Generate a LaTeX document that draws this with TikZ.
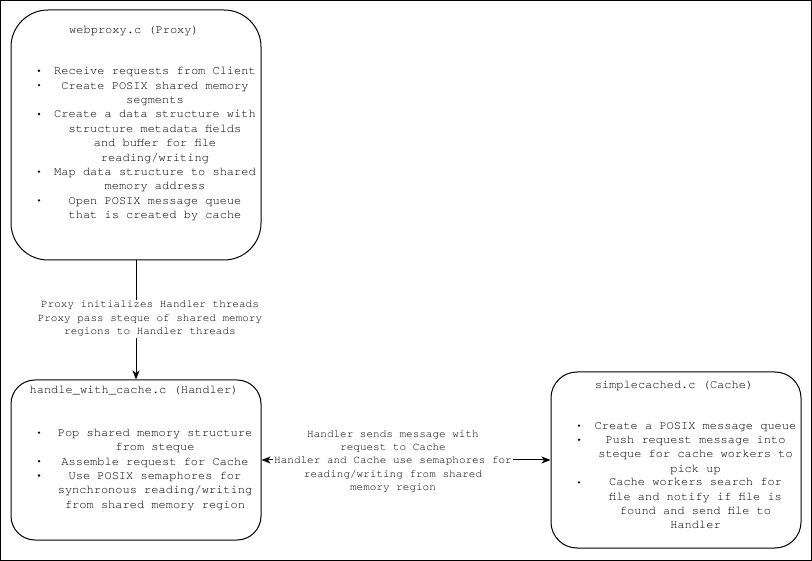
\documentclass[tikz,border=0pt]{standalone}
\usepackage{fontspec}
\setmonofont{TeX Gyre Cursor}
\usetikzlibrary{arrows.meta}
\tikzset{
  box/.style={draw, line width=1pt, rounded corners=#1, inner sep=0},
  title/.style={font=\fontsize{12}{14.4}\selectfont\ttfamily, anchor=base, inner sep=0},
  item/.style={font=\fontsize{12}{14.4}\selectfont\ttfamily, align=center, anchor=base, inner sep=0},
  dot/.style={circle, fill, inner sep=0, minimum size=2.6pt},
  lbl/.style={font=\fontsize{11}{13.3}\selectfont\ttfamily, align=center, fill=white, inner sep=1.5pt},
}

\begin{document}
\begin{tikzpicture}[x=1pt, y=-1pt, line width=1pt, >={Stealth[length=9pt,width=7pt,inset=2.5pt]}]
\useasboundingbox (0,0) rectangle (812,561);
\draw (0.5,0.5) rectangle (811.5,560.5);

% the three programs
\node[box=37pt, minimum width=250pt, minimum height=250pt] (proxy) at (136,135) {};
\node[box=24pt, minimum width=250pt, minimum height=160pt] (handler) at (136,460) {};
\node[box=26pt, minimum width=250pt, minimum height=176pt] (cache) at (676,460) {};

\node[title] (proxyt) at (134,33.3) {webproxy.c (Proxy)};
\node[title] (handlert) at (134,394) {handle\_with\_cache.c (Handler)};
\node[title] (cachet) at (674,389) {simplecached.c (Cache)};

% bullet items: first line / number of lines / text (base = last line)
\foreach \k/\n/\txt in {0/1/{Receive requests from Client},
  1/2/{Create POSIX shared memory\\segments},
  3/4/{Create a data structure with\\structure metadata fields\\and buffer for file\\reading/writing},
  7/2/{Map data structure to shared\\memory address},
  9/2/{Open POSIX message queue\\that is created by cache}} {
 \node[dot] (pd\k) at (39,70.8+14.4*\k) {};
 \node[item] (pi\k) at (155,74.8+14.4*\k+14.4*\n-14.4) {\txt};
}
\foreach \k/\n/\txt in {0/2/{Pop shared memory structure\\from steque},
  2/1/{Assemble request for Cache},
  3/3/{Use POSIX semaphores for\\synchronous reading/writing\\from shared memory region}} {
 \node[dot] (hd\k) at (39,432.6+14.3*\k) {};
 \node[item] (hi\k) at (155,436.6+14.3*\k+14.3*\n-14.3) {\txt};
}
\foreach \k/\n/\txt in {0/1/{Create a POSIX message queue},
  1/3/{Push request message into\\steque for cache workers to\\pick up},
  4/4/{Cache workers search for\\file and notify if file is\\found and send file to\\Handler}} {
 \node[dot] (cd\k) at (579,425.6+14.2*\k) {};
 \node[item] (ci\k) at (695.5,429.6+14.2*\k+14.2*\n-14.2) {\txt};
}

% connectors
\draw[->] (proxy.south) -- (handler.north)
  node[lbl, pos=.49, xshift=14pt] (pass) {Proxy initializes Handler threads\\Proxy pass steque of shared memory\\regions to Handler threads};
\draw[<->] (handler.east) -- (cache.west)
  node[lbl, midway, xshift=-13pt, yshift=-1.5pt] (msg) {Handler sends message with\\request to Cache\\Handler and Cache use semaphores for\\reading/writing from shared\\memory region};
\end{tikzpicture}
\end{document}
